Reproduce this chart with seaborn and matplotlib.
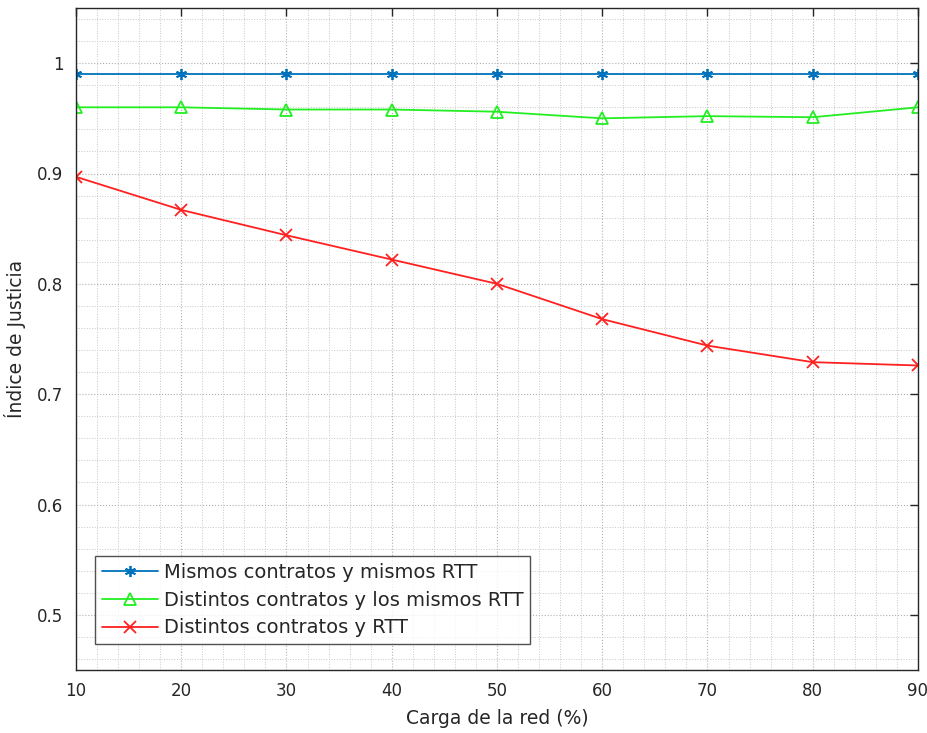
import numpy as np
import pandas as pd
import matplotlib
matplotlib.use("Agg")
import matplotlib.pyplot as plt
import seaborn as sns
from matplotlib.ticker import MultipleLocator

carga = [10, 20, 30, 40, 50, 60, 70, 80, 90]
mismos = [0.990, 0.990, 0.990, 0.990, 0.990, 0.990, 0.990, 0.990, 0.990]
distintos_mismos_rtt = [0.960, 0.960, 0.958, 0.958, 0.956, 0.950, 0.952, 0.951, 0.960]
distintos_rtt = [0.897, 0.867, 0.844, 0.822, 0.800, 0.768, 0.744, 0.729, 0.726]

labels = ["Mismos contratos y mismos RTT",
          "Distintos contratos y los mismos RTT",
          "Distintos contratos y RTT"]

df = pd.DataFrame({
    "carga": carga * 3,
    "indice": mismos + distintos_mismos_rtt + distintos_rtt,
    "serie": sum([[l] * len(carga) for l in labels], []),
})

sns.set_style("white")
plt.rcParams["font.family"] = ["DejaVu Sans"]

fig = plt.figure(figsize=(9.28, 7.33), dpi=100)
ax = fig.add_axes([76 / 928, 63 / 733, 842 / 928, 662 / 733])

colors = ["#0072BD", "#22EE22", "#FF2020"]
markers = [(6, 2, 0), "^", "x"]
for lab, col, mk in zip(labels, colors, markers):
    sub = df[df["serie"] == lab]
    sns.lineplot(data=sub, x="carga", y="indice", ax=ax, color=col, label=lab,
                 marker=mk, markersize=8, markerfacecolor="none" if mk == "^" else col,
                 markeredgecolor=col, markeredgewidth=1.3, linewidth=1.3)

ax.set_xlim(10, 90)
ax.set_ylim(0.45, 1.05)
ax.xaxis.set_major_locator(MultipleLocator(10))
ax.xaxis.set_minor_locator(MultipleLocator(2))
ax.yaxis.set_minor_locator(MultipleLocator(0.02))
ax.set_yticks([0.5, 0.6, 0.7, 0.8, 0.9, 1.0])
ax.set_yticklabels(["0.5", "0.6", "0.7", "0.8", "0.9", "1"])

ax.grid(True, which="major", linestyle=":", color="#b0b0b0", linewidth=0.8)
ax.grid(True, which="minor", linestyle=":", color="#c8c8c8", linewidth=0.7)
ax.tick_params(which="major", direction="in", top=True, right=True, length=6,
               width=1, color="#262626", labelsize=12, labelcolor="#262626", pad=9)
ax.tick_params(which="minor", length=0)
for s in ax.spines.values():
    s.set_color("#262626")
    s.set_linewidth(1.0)

ax.set_xlabel("Carga de la red (%)", fontsize=13.5, color="#262626", labelpad=6)
ax.set_ylabel("Índice de Justicia", fontsize=13.5, color="#262626", labelpad=8)

leg = ax.legend(loc="lower left", bbox_to_anchor=(0.0226, 0.039), borderaxespad=0,
                fontsize=14, frameon=True, fancybox=False, edgecolor="#262626",
                handlelength=2.9, borderpad=0.35, labelspacing=0.45, handletextpad=0.3)
leg.get_frame().set_linewidth(1.0)
for t in leg.get_texts():
    t.set_color("#262626")

fig.savefig("out.png", dpi=100)
